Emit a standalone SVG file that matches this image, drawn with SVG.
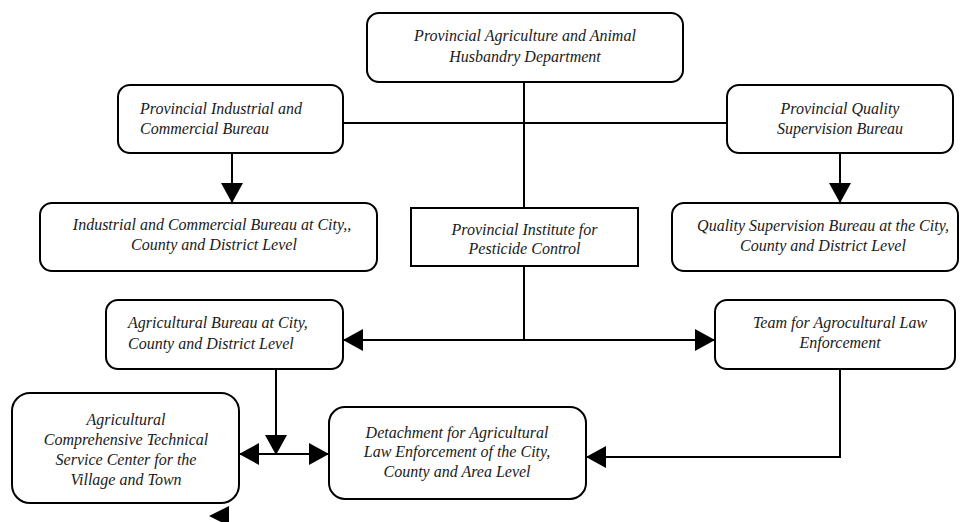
<svg xmlns="http://www.w3.org/2000/svg" width="964" height="522" viewBox="0 0 964 522">
<style>
  .box { fill: #ffffff; stroke: #000000; stroke-width: 2; }
  .t { font-family: "Liberation Serif", "Times New Roman", serif; font-style: italic; font-size: 16px; fill: #1a1a1a; }
  .c { text-anchor: middle; }
  .ln { fill: none; stroke: #000000; stroke-width: 2; }
  .head { fill: #000000; }
</style>
<defs>
  <marker id="arr" viewBox="0 0 20 22" markerWidth="20" markerHeight="22" refX="20" refY="11" orient="auto-start-reverse" markerUnits="userSpaceOnUse">
    <path d="M0,0 L20,11 L0,22 z" fill="#000000"/>
  </marker>
</defs>
<rect width="964" height="522" fill="#ffffff"/>

<g id="connectors">
  <line class="ln" x1="524" y1="82" x2="524" y2="208"/>
  <line class="ln" x1="343" y1="123" x2="727" y2="123"/>
  <line class="ln" x1="232" y1="153" x2="232" y2="203" marker-end="url(#arr)"/>
  <line class="ln" x1="840" y1="153" x2="840" y2="203" marker-end="url(#arr)"/>
  <line class="ln" x1="524" y1="266" x2="524" y2="340"/>
  <line class="ln" x1="343" y1="340" x2="715" y2="340" marker-start="url(#arr)" marker-end="url(#arr)"/>
  <line class="ln" x1="276" y1="369" x2="276" y2="455" marker-end="url(#arr)"/>
  <line class="ln" x1="239" y1="454" x2="329" y2="454" marker-start="url(#arr)" marker-end="url(#arr)"/>
  <polyline class="ln" points="840,369 840,457 586,457" marker-end="url(#arr)"/>
  <polygon class="head" points="209,516 229,506 229,526"/>
</g>

<g id="node-provincial-agriculture">
  <rect class="box" x="367" y="13" width="316" height="69" rx="12"/>
  <text class="t c" x="525" y="41">Provincial Agriculture and Animal</text>
  <text class="t c" x="525" y="62">Husbandry Department</text>
</g>

<g id="node-provincial-industrial">
  <rect class="box" x="118" y="85" width="225" height="68" rx="12"/>
  <text class="t" x="140" y="114">Provincial Industrial and</text>
  <text class="t" x="140" y="134">Commercial Bureau</text>
</g>

<g id="node-provincial-quality">
  <rect class="box" x="727" y="85" width="226" height="68" rx="12"/>
  <text class="t c" x="840" y="114">Provincial Quality</text>
  <text class="t c" x="840" y="134">Supervision Bureau</text>
</g>

<g id="node-industrial-city">
  <rect class="box" x="40" y="203" width="337" height="68" rx="12"/>
  <text class="t c" x="212" y="230">Industrial and Commercial Bureau at City,,</text>
  <text class="t c" x="214" y="250">County and District Level</text>
</g>

<g id="node-pesticide">
  <rect class="box" x="411" y="208" width="227" height="58"/>
  <text class="t c" x="524.5" y="235">Provincial Institute for</text>
  <text class="t c" x="524.5" y="254">Pesticide Control</text>
</g>

<g id="node-quality-city">
  <rect class="box" x="672" y="203" width="286" height="68" rx="12"/>
  <text class="t c" x="823" y="231">Quality Supervision Bureau at the City,</text>
  <text class="t c" x="823" y="251">County and District Level</text>
</g>

<g id="node-agricultural-bureau">
  <rect class="box" x="106" y="300" width="237" height="69" rx="12"/>
  <text class="t" x="128" y="328">Agricultural Bureau at City,</text>
  <text class="t" x="128" y="349">County and District Level</text>
</g>

<g id="node-team-law">
  <rect class="box" x="715" y="300" width="240" height="69" rx="12"/>
  <text class="t c" x="840" y="328">Team for Agrocultural Law</text>
  <text class="t c" x="840" y="348">Enforcement</text>
</g>

<g id="node-comprehensive-center">
  <rect class="box" x="12" y="393" width="227" height="110" rx="18"/>
  <text class="t c" x="126" y="425">Agricultural</text>
  <text class="t c" x="126" y="445">Comprehensive Technical</text>
  <text class="t c" x="126" y="465">Service Center for the</text>
  <text class="t c" x="126" y="485">Village and Town</text>
</g>

<g id="node-detachment">
  <rect class="box" x="329" y="407" width="257" height="92" rx="16"/>
  <text class="t c" x="457" y="438">Detachment for Agricultural</text>
  <text class="t c" x="457" y="457">Law Enforcement of the City,</text>
  <text class="t c" x="457" y="477">County and Area Level</text>
</g>
</svg>
